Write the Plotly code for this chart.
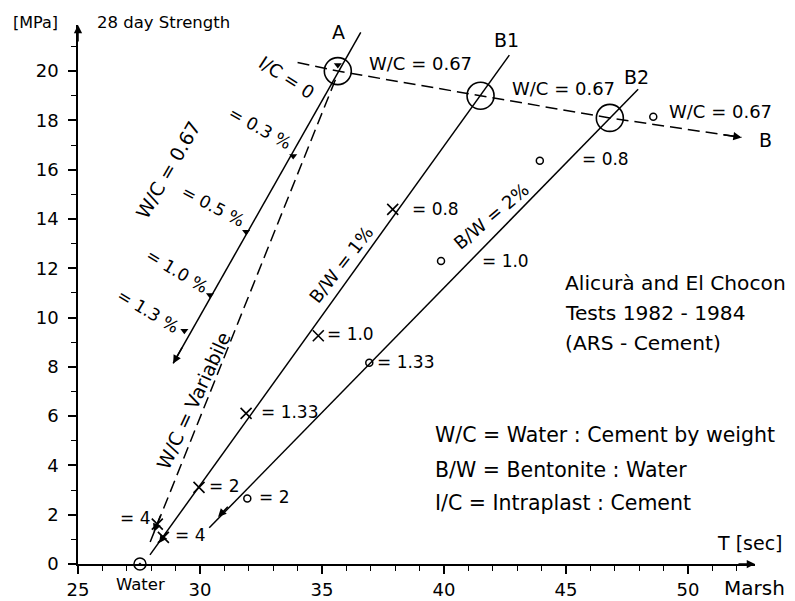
import plotly.graph_objects as go

# ---------------- data ----------------
x_tick_vals = [25, 30, 35, 40, 45, 50]
y_tick_vals = [0, 2, 4, 6, 8, 10, 12, 14, 16, 18, 20]

# line A : W/C = 0.67, I/C increasing (solid)
lineA_x = [36.59, 28.90]
lineA_y = [21.57, 8.14]
# dashed line : W/C = variabile
varWC_x = [35.55, 27.88]
varWC_y = [19.65, 0.70]
# line B1 : B/W = 1 %
lineB1_x = [42.68, 27.95]
lineB1_y = [20.65, 0.37]
# line B2 : B/W = 2 %
lineB2_x = [47.96, 30.38]
lineB2_y = [19.26, 1.47]
# dashed line B : W/C = 0.67
lineB_x = [34.00, 35.65, 41.50, 46.80, 52.20]
lineB_y = [20.35, 20.00, 19.00, 18.10, 17.31]

# big reference circles A, B1, B2
big_x = [35.65, 41.50, 46.80]
big_y = [20.00, 19.00, 18.10]
# intraplast points (triangles)
tri_x = [35.65, 33.82, 31.89, 30.41, 29.36]
tri_y = [20.25, 16.55, 13.48, 10.91, 9.46]
# B/W = 1 % points (crosses)
cross_x = [37.90, 34.85, 31.89, 29.96, 28.50, 28.25]
cross_y = [14.39, 9.26, 6.11, 3.11, 1.08, 1.62]
# B/W = 2 % points (small circles)
ring_x = [36.94, 31.94, 39.88, 43.93, 48.58]
ring_y = [8.17, 2.66, 12.29, 16.36, 18.15]
# water
water_x = [27.54]
water_y = [0.0]

# ---------------- figure ----------------
FONT = "DejaVu Sans"
OFF = 8                      # page body margin of the exported html
X0, X1 = 25.0, 52.75
Y0, Y1 = 0.0, 21.87
W, H = 795 - OFF, 601 - OFF
L, R, T, B = 78 - OFF, 40, 25 - OFF, 37
PW, PH = W - L - R, H - T - B

fig = go.Figure()

line_style = dict(color="black", width=1.5)
dash_style = dict(color="black", width=1.5, dash="12px,6px")

fig.add_trace(go.Scatter(x=lineA_x, y=lineA_y, mode="lines", line=line_style))
fig.add_trace(go.Scatter(x=varWC_x, y=varWC_y, mode="lines", line=dash_style))
fig.add_trace(go.Scatter(x=lineB1_x, y=lineB1_y, mode="lines", line=line_style))
fig.add_trace(go.Scatter(x=lineB2_x, y=lineB2_y, mode="lines", line=line_style))
fig.add_trace(go.Scatter(x=lineB_x, y=lineB_y, mode="lines", line=dash_style))

fig.add_trace(go.Scatter(x=big_x, y=big_y, mode="markers",
                         marker=dict(symbol="circle-open", size=27, color="black",
                                     line=dict(width=1.6, color="black"))))
fig.add_trace(go.Scatter(x=tri_x, y=tri_y, mode="markers",
                         marker=dict(symbol="triangle-down", size=7, color="black")))
fig.add_trace(go.Scatter(x=cross_x, y=cross_y, mode="markers",
                         marker=dict(symbol="x-thin-open", size=11, color="black",
                                     line=dict(width=1.6, color="black"))))
fig.add_trace(go.Scatter(x=ring_x, y=ring_y, mode="markers",
                         marker=dict(symbol="circle-open", size=7, color="black",
                                     line=dict(width=1.5, color="black"))))
fig.add_trace(go.Scatter(x=water_x, y=water_y, mode="markers", cliponaxis=False,
                         marker=dict(symbol="circle-open-dot", size=12, color="black",
                                     line=dict(width=1.5, color="black"))))

anns = []


def dtext(text, x, y, angle=0, xanchor="center", size=18):
    anns.append(dict(text=text, x=x, y=y, xref="x", yref="y", showarrow=False,
                     textangle=angle, xanchor=xanchor, yanchor="middle",
                     font=dict(family=FONT, size=size, color="black")))


def ptext(text, px, py, xanchor="center", size=19):
    # px, py : position in the screenshot
    anns.append(dict(text=text, x=(px - OFF - L) / PW, y=(H - B - (py - OFF)) / PH,
                     xref="paper", yref="paper", showarrow=False,
                     xanchor=xanchor, yanchor="middle",
                     font=dict(family=FONT, size=size, color="black")))


def arrow(x, y, ax, ay):
    anns.append(dict(x=x, y=y, ax=ax, ay=ay, xref="x", yref="y", axref="x", ayref="y",
                     text="", showarrow=True, arrowhead=2, arrowsize=1.1,
                     arrowwidth=1.5, arrowcolor="black"))


# labels in data space
dtext("A", 35.66, 21.58, size=19)
dtext("B1", 42.58, 21.26, size=19)
dtext("B2", 47.91, 19.76, size=19)
dtext("I/C = 0", 33.57, 19.76, angle=33)
dtext("W/C = 0.67", 36.84, 20.32, xanchor="left")
dtext("W/C = 0.67", 42.70, 19.31, xanchor="left")
dtext("W/C = 0.67", 49.14, 18.38, xanchor="left")
dtext("W/C = 0.67", 28.69, 15.98, angle=-60, size=19)
dtext("= 0.3 %", 32.46, 17.69, angle=29, size=17)
dtext("= 0.5 %", 30.53, 14.52, angle=28, size=17)
dtext("= 1.0 %", 29.06, 11.89, angle=31, size=17)
dtext("= 1.3 %", 27.87, 10.26, angle=31, size=17)
dtext("W/C = Variabile", 29.75, 6.65, angle=-65, size=19)
dtext("B/W = 1%", 35.78, 12.17, angle=-52)
dtext("B/W = 2%", 41.93, 14.08, angle=-40)
dtext("= 0.8", 38.60, 14.40, xanchor="left", size=17)
dtext("= 1.0", 35.12, 9.33, xanchor="left", size=17)
dtext("= 1.33", 32.42, 6.17, xanchor="left", size=17)
dtext("= 2", 30.29, 3.16, xanchor="left", size=17)
dtext("= 4", 28.89, 1.18, xanchor="left", size=17)
dtext("= 4", 26.64, 1.87, xanchor="left", size=17)
dtext("= 1.33", 37.17, 8.20, xanchor="left", size=17)
dtext("= 2", 32.34, 2.72, xanchor="left", size=17)
dtext("= 1.0", 41.48, 12.29, xanchor="left", size=17)
dtext("= 0.8", 45.57, 16.43, xanchor="left", size=17)

# labels in paper space (pixel positions of the reference converted)
ptext("[MPa]", 35, 23, size=16)
ptext("28 day Strength", 95, 23, xanchor="left", size=16.5)
ptext("B", 765, 140, size=19)
ptext("T [sec]", 785, 543, xanchor="right", size=19)
ptext("Marsh", 722, 588, xanchor="left", size=20)
ptext("Water", 140, 584, size=16.5)
ptext("Alicurà and El Chocon", 563, 283, xanchor="left", size=20.2)
ptext("Tests 1982 - 1984", 563, 313, xanchor="left", size=20.2)
ptext("(ARS - Cement)", 563, 343, xanchor="left", size=20.2)
ptext("W/C = Water : Cement by weight", 433, 435, xanchor="left", size=20.5)
ptext("B/W = Bentonite : Water", 433, 470, xanchor="left", size=20.5)
ptext("I/C = Intraplast : Cement", 433, 503, xanchor="left", size=20.5)

# arrowheads on the lines
arrow(lineA_x[-1], lineA_y[-1], 29.3, 8.84)
arrow(28.11, 1.30, 28.40, 2.02)
arrow(28.32, 0.85, 28.70, 1.37)
arrow(30.74, 1.91, 31.20, 2.38)
arrow(lineB_x[-1], lineB_y[-1], 51.40, 17.43)

# axis arrowheads
anns.append(dict(x=0, y=1, xref="paper", yref="paper", ax=0, ay=18, text="",
                 showarrow=True, arrowhead=2, arrowsize=1.1, arrowwidth=1.5,
                 arrowcolor="black"))
anns.append(dict(x=1, y=0, xref="paper", yref="paper", ax=-18, ay=0, text="",
                 showarrow=True, arrowhead=2, arrowsize=1.1, arrowwidth=1.5,
                 arrowcolor="black"))

axis_common = dict(showline=True, linecolor="black", linewidth=1.5, showgrid=False,
                   zeroline=False, ticks="outside", ticklen=8, tickwidth=1.5,
                   tickcolor="black",
                   tickfont=dict(family=FONT, size=18, color="black"),
                   minor=dict(ticks="outside", ticklen=5, tickwidth=1, dtick=1,
                              tickcolor="black", showgrid=False))

fig.update_layout(
    width=W, height=H,
    margin=dict(l=L, r=R, t=T, b=B, pad=0, autoexpand=False),
    paper_bgcolor="white", plot_bgcolor="white",
    showlegend=False,
    xaxis=dict(range=[X0, X1], tickvals=x_tick_vals, ticklabelstandoff=1, **axis_common),
    yaxis=dict(range=[Y0, Y1], tickvals=y_tick_vals, ticklabelstandoff=6, **axis_common),
    annotations=anns,
)

fig.write_html("out.html")
